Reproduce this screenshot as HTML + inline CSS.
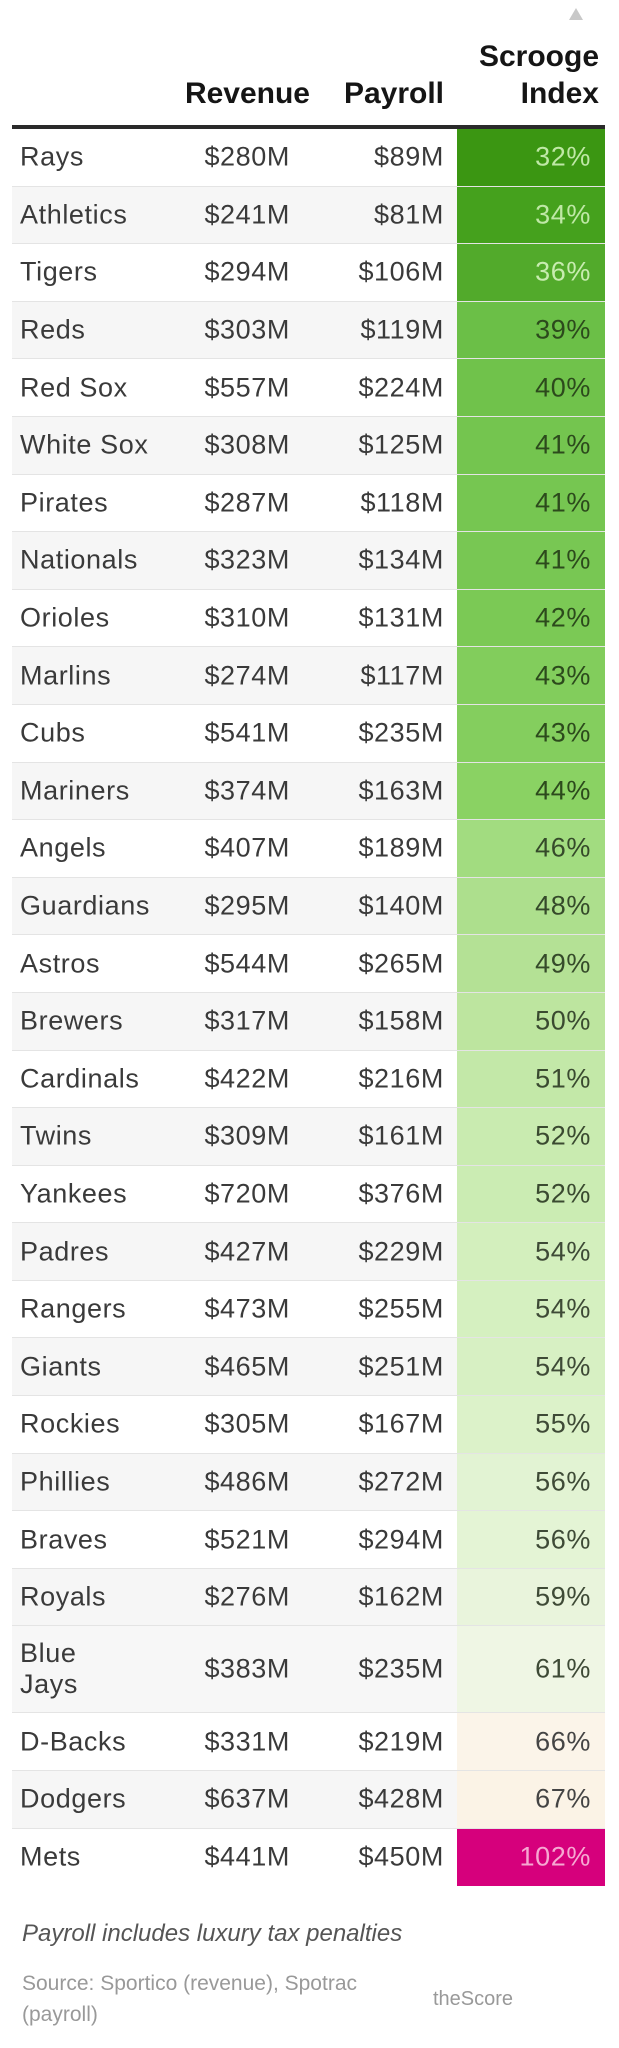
<!DOCTYPE html>
<html><head><meta charset="utf-8">
<style>
html,body{margin:0;padding:0;background:#fff;}
body{width:619px;height:2048px;position:relative;overflow:hidden;font-family:"Liberation Sans",Arial,sans-serif;}
.h{position:absolute;font-weight:bold;font-size:30px;line-height:34px;color:#151515;text-align:right;}
.tri{position:absolute;left:569px;top:8px;width:0;height:0;border-left:7px solid transparent;border-right:7px solid transparent;border-bottom:12px solid #c8c8c8;}
.line{position:absolute;left:12px;width:593px;top:125px;height:4px;background:#2a2a2a;}
#rows{position:absolute;left:12px;top:129px;width:593px;}
.r{position:relative;height:57.6px;border-bottom:1px solid #e4e4e4;box-sizing:border-box;font-size:27px;letter-spacing:0.6px;color:#3a3a3a;overflow:hidden;}
.r.g{background:#f6f6f6;}
.r span{position:absolute;top:50%;transform:translateY(-50%);}
.t{left:8px;line-height:31px;}
.rv{right:315px;}
.py{right:161px;}
.c{position:absolute;left:445px;width:148px;top:0;bottom:0;}
.pc{right:14px;}
.foot1{position:absolute;left:22px;top:1920px;font-style:italic;font-size:24px;color:#555;}
.foot2{position:absolute;left:22px;top:1968px;font-size:21px;line-height:31px;color:#999;}
.foot3{position:absolute;left:433px;top:1988px;font-size:20px;color:#999;}
</style></head><body>
<div class="tri"></div>
<div class="h" style="right:20px;top:40px;">Scrooge</div>
<div class="h" style="right:20px;top:77px;">Index</div>
<div class="h" style="right:309px;top:77px;">Revenue</div>
<div class="h" style="right:175px;top:77px;">Payroll</div>
<div class="line"></div>
<div id="rows">
<div class="r"><span class="t">Rays</span><span class="rv">$280M</span><span class="py">$89M</span><div class="c" style="background:#3b9612"></div><span class="pc" style="color:#bfe8a6">32%</span></div>
<div class="r g"><span class="t">Athletics</span><span class="rv">$241M</span><span class="py">$81M</span><div class="c" style="background:#45a11d"></div><span class="pc" style="color:#bfe8a6">34%</span></div>
<div class="r"><span class="t">Tigers</span><span class="rv">$294M</span><span class="py">$106M</span><div class="c" style="background:#52aa2b"></div><span class="pc" style="color:#c8ecb0">36%</span></div>
<div class="r g"><span class="t">Reds</span><span class="rv">$303M</span><span class="py">$119M</span><div class="c" style="background:#6bbf47"></div><span class="pc" style="color:#2c4a1c">39%</span></div>
<div class="r"><span class="t">Red Sox</span><span class="rv">$557M</span><span class="py">$224M</span><div class="c" style="background:#70c24b"></div><span class="pc" style="color:#2c4a1c">40%</span></div>
<div class="r g"><span class="t">White Sox</span><span class="rv">$308M</span><span class="py">$125M</span><div class="c" style="background:#74c54f"></div><span class="pc" style="color:#2c4a1c">41%</span></div>
<div class="r"><span class="t">Pirates</span><span class="rv">$287M</span><span class="py">$118M</span><div class="c" style="background:#76c651"></div><span class="pc" style="color:#2c4a1c">41%</span></div>
<div class="r g"><span class="t">Nationals</span><span class="rv">$323M</span><span class="py">$134M</span><div class="c" style="background:#78c753"></div><span class="pc" style="color:#2c4a1c">41%</span></div>
<div class="r"><span class="t">Orioles</span><span class="rv">$310M</span><span class="py">$131M</span><div class="c" style="background:#7bc955"></div><span class="pc" style="color:#2c4a1c">42%</span></div>
<div class="r g"><span class="t">Marlins</span><span class="rv">$274M</span><span class="py">$117M</span><div class="c" style="background:#82cd5c"></div><span class="pc" style="color:#2c4a1c">43%</span></div>
<div class="r"><span class="t">Cubs</span><span class="rv">$541M</span><span class="py">$235M</span><div class="c" style="background:#84ce5e"></div><span class="pc" style="color:#2c4a1c">43%</span></div>
<div class="r g"><span class="t">Mariners</span><span class="rv">$374M</span><span class="py">$163M</span><div class="c" style="background:#8ad263"></div><span class="pc" style="color:#2c4a1c">44%</span></div>
<div class="r"><span class="t">Angels</span><span class="rv">$407M</span><span class="py">$189M</span><div class="c" style="background:#a2dc80"></div><span class="pc" style="color:#354a2a">46%</span></div>
<div class="r g"><span class="t">Guardians</span><span class="rv">$295M</span><span class="py">$140M</span><div class="c" style="background:#addf8d"></div><span class="pc" style="color:#354a2a">48%</span></div>
<div class="r"><span class="t">Astros</span><span class="rv">$544M</span><span class="py">$265M</span><div class="c" style="background:#b4e195"></div><span class="pc" style="color:#354a2a">49%</span></div>
<div class="r g"><span class="t">Brewers</span><span class="rv">$317M</span><span class="py">$158M</span><div class="c" style="background:#bde59f"></div><span class="pc" style="color:#3a4a30">50%</span></div>
<div class="r"><span class="t">Cardinals</span><span class="rv">$422M</span><span class="py">$216M</span><div class="c" style="background:#c3e8a8"></div><span class="pc" style="color:#3a4a30">51%</span></div>
<div class="r g"><span class="t">Twins</span><span class="rv">$309M</span><span class="py">$161M</span><div class="c" style="background:#c9ebb0"></div><span class="pc" style="color:#3a4a30">52%</span></div>
<div class="r"><span class="t">Yankees</span><span class="rv">$720M</span><span class="py">$376M</span><div class="c" style="background:#cbecb3"></div><span class="pc" style="color:#3a4a30">52%</span></div>
<div class="r g"><span class="t">Padres</span><span class="rv">$427M</span><span class="py">$229M</span><div class="c" style="background:#d3efbd"></div><span class="pc" style="color:#3e4a36">54%</span></div>
<div class="r"><span class="t">Rangers</span><span class="rv">$473M</span><span class="py">$255M</span><div class="c" style="background:#d5f0c0"></div><span class="pc" style="color:#3e4a36">54%</span></div>
<div class="r g"><span class="t">Giants</span><span class="rv">$465M</span><span class="py">$251M</span><div class="c" style="background:#d7f0c3"></div><span class="pc" style="color:#3e4a36">54%</span></div>
<div class="r"><span class="t">Rockies</span><span class="rv">$305M</span><span class="py">$167M</span><div class="c" style="background:#dcf2c9"></div><span class="pc" style="color:#3e4a36">55%</span></div>
<div class="r g"><span class="t">Phillies</span><span class="rv">$486M</span><span class="py">$272M</span><div class="c" style="background:#e2f3d3"></div><span class="pc" style="color:#3e4a36">56%</span></div>
<div class="r"><span class="t">Braves</span><span class="rv">$521M</span><span class="py">$294M</span><div class="c" style="background:#e4f4d5"></div><span class="pc" style="color:#3e4a36">56%</span></div>
<div class="r g"><span class="t">Royals</span><span class="rv">$276M</span><span class="py">$162M</span><div class="c" style="background:#e9f4dc"></div><span class="pc" style="color:#3e4a36">59%</span></div>
<div class="r" style="height:87px;background:#f7f7f7"><span class="t">Blue<br>Jays</span><span class="rv">$383M</span><span class="py">$235M</span><div class="c" style="background:#eff6e4"></div><span class="pc" style="color:#3e4a36">61%</span></div>
<div class="r"><span class="t">D-Backs</span><span class="rv">$331M</span><span class="py">$219M</span><div class="c" style="background:#fbf4e9"></div><span class="pc" style="color:#444">66%</span></div>
<div class="r g"><span class="t">Dodgers</span><span class="rv">$637M</span><span class="py">$428M</span><div class="c" style="background:#fbf3e6"></div><span class="pc" style="color:#444">67%</span></div>
<div class="r" style="border-bottom:none"><span class="t">Mets</span><span class="rv">$441M</span><span class="py">$450M</span><div class="c" style="background:#d6007c"></div><span class="pc" style="color:#f6a8d2">102%</span></div>
</div>
<div class="foot1">Payroll includes luxury tax penalties</div>
<div class="foot2">Source: Sportico (revenue), Spotrac<br>(payroll)</div>
<div class="foot3">theScore</div>
</body></html>
